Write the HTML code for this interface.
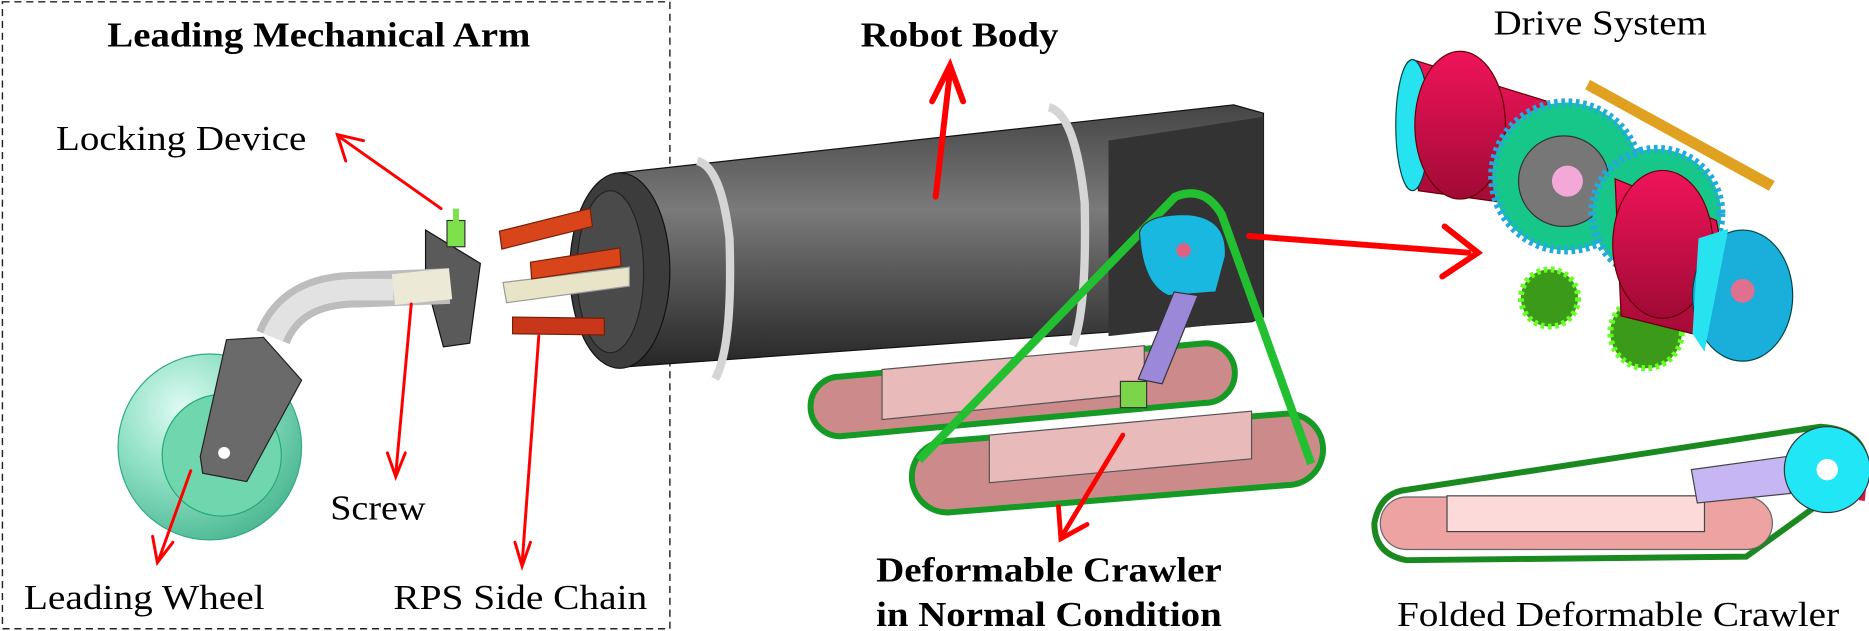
<!DOCTYPE html>
<html><head><meta charset="utf-8"><style>
html,body{margin:0;padding:0;background:#fff;overflow:hidden}
svg{display:block}
text{font-family:"Liberation Serif",serif;fill:#000}
.b{font-weight:bold}
</style></head><body>
<svg width="1869" height="631" viewBox="0 0 1568 529.4" xmlns="http://www.w3.org/2000/svg">
<defs>
<linearGradient id="body" x1="0" y1="0" x2="0" y2="1">
<stop offset="0" stop-color="#454545"/><stop offset="0.4" stop-color="#7a7a7a"/><stop offset="1" stop-color="#262626"/></linearGradient>
<linearGradient id="red" x1="0" y1="0" x2="0" y2="1">
<stop offset="0" stop-color="#f0145a"/><stop offset="1" stop-color="#a00a35"/></linearGradient>
<radialGradient id="wh" cx="0.35" cy="0.3" r="0.75"><stop offset="0" stop-color="#e0fbf4"/><stop offset="0.5" stop-color="#8ee0c4"/><stop offset="1" stop-color="#4cb892"/></radialGradient>
</defs>

<rect x="2" y="1.5" width="560" height="526" fill="none" stroke="#222" stroke-width="1.2" stroke-dasharray="6,4"/>

<!-- main body -->
<path d="M520,145 L1035,88 L1060,95 L1060,266 L1050,270 L522,308 Z" fill="url(#body)" stroke="#111"/>
<path d="M930,118 L1060,98 L1060,268 L930,282 Z" fill="#333"/>
<ellipse cx="520" cy="227" rx="42" ry="82" fill="#3c3c3c" stroke="#111"/>
<ellipse cx="512" cy="228" rx="28" ry="68" fill="#4a4a4a" stroke="#222"/>
<path d="M585,135 Q605,140 612,200 Q615,290 600,318" fill="none" stroke="#d5d5d5" stroke-width="7"/>
<path d="M880,90 Q902,95 910,170 Q912,260 900,290" fill="none" stroke="#d5d5d5" stroke-width="7"/>

<!-- arm -->
<path d="M422,237 L528,224 L528,240 L425,254 Z" fill="#e8e4c8" stroke="#999"/>
<path d="M419,194 L495,175 L497,190 L421,209 Z" fill="#d9451a" stroke="#7a1d05"/>
<path d="M445,220 L520,208 L521,223 L446,234 Z" fill="#d9451a" stroke="#7a1d05"/>
<path d="M430,266 L507,267 L507,281 L430,280 Z" fill="#c8371a" stroke="#7a1d05"/>
<path d="M357,193 L403,221 L394,288 L372,291 L357,235 Z" fill="#5a5a5a" stroke="#111"/>
<rect x="375" y="185" width="15" height="22" fill="#7ee04a" stroke="#333"/>
<rect x="380" y="175" width="5" height="12" fill="#7ee04a"/>
<path d="M229,283 Q245,243 300,243 L377,240" fill="none" stroke="#bdbdbd" stroke-width="30"/>
<path d="M229,283 Q245,243 300,243 L330,243" fill="none" stroke="#e2e2e2" stroke-width="18"/>
<path d="M330,243 L378,238" stroke="#ecead6" stroke-width="26"/>
<ellipse cx="176" cy="375" rx="77" ry="78" fill="url(#wh)" stroke="#3a8"/>
<ellipse cx="186" cy="382" rx="50" ry="51" fill="#6fd6ad" stroke="#2a7"/>
<path d="M190,285 L221,283 L253,319 L207,404 L170,397 L168,383 Z" fill="#6a6a6a" stroke="#222"/>
<circle cx="188" cy="380" r="5" fill="#fff"/>

<!-- crawler normal -->
<path d="M705,316 L1011,288 A25,25 0 0 1 1011,338 L705,366 A25,25 0 0 1 705,316 Z" fill="#cd8a8a" stroke="#159a25" stroke-width="5"/>
<path d="M740,310 L960,290 L960,330 L740,352 Z" fill="#e8baba" stroke="#555"/>
<path d="M795,370 L1080,347 A30,30 0 0 1 1080,407 L795,430 A30,30 0 0 1 795,370 Z" fill="#cd8a8a" stroke="#159a25" stroke-width="5"/>
<path d="M830,365 L1050,345 L1050,385 L830,405 Z" fill="#e8baba" stroke="#555"/>
<path d="M771,386 L986,165 Q1010,155 1025,180 L1100,389" fill="none" stroke="#22c030" stroke-width="7"/>
<path d="M956,195 Q960,180 995,180 Q1030,182 1028,215 L1020,245 L980,248 Q958,238 956,195 Z" fill="#18b8e0" stroke="#333"/>
<circle cx="993" cy="210" r="6" fill="#e06080"/>
<path d="M985,245 L1005,248 L975,322 L955,318 Z" fill="#9b88d8" stroke="#333"/>
<rect x="940" y="320" width="22" height="22" fill="#7bd44a" stroke="#333"/>

<!-- drive system -->
<path d="M1185,50 L1298,85 L1298,175 L1190,160 Z" fill="url(#red)" stroke="#600"/>
<ellipse cx="1185" cy="105" rx="14" ry="55" fill="#27e3f0" stroke="#044"/>
<ellipse cx="1225" cy="105" rx="38" ry="62" fill="url(#red)" stroke="#600"/>
<circle cx="1314" cy="148" r="62" fill="#17c789" stroke="#2ad" stroke-width="7" stroke-dasharray="3,3"/>
<circle cx="1312" cy="152" r="38" fill="#777" stroke="#333"/>
<circle cx="1315" cy="152" r="13" fill="#f4a8d8"/>
<path d="M1334,67 L1489,152 L1484,160 L1330,75 Z" fill="#e0a020"/>
<circle cx="1390" cy="179" r="54" fill="#17c789" stroke="#2ad" stroke-width="7" stroke-dasharray="3,3"/>
<circle cx="1300" cy="250" r="24" fill="#3c9a1a" stroke="#6f2" stroke-width="5" stroke-dasharray="3,3"/>
<circle cx="1381" cy="279" r="30" fill="#3c9a1a" stroke="#6f2" stroke-width="5" stroke-dasharray="3,3"/>
<path d="M1355,150 L1440,185 L1460,290 L1360,265 Z" fill="url(#red)" stroke="#600"/>
<ellipse cx="1395" cy="205" rx="42" ry="62" fill="url(#red)" stroke="#600"/>
<ellipse cx="1462" cy="248" rx="42" ry="55" fill="#1aaedb" stroke="#044"/>
<path d="M1425,200 L1450,192 L1430,295 L1420,280 Z" fill="#27e3f0"/>
<circle cx="1462" cy="244" r="10" fill="#e07090"/>

<!-- folded crawler -->
<path d="M1153,439 Q1158,413 1180,411 L1527,358 Q1566,360 1566,394 L1465,467 L1180,470 Q1153,465 1153,439 Z" fill="#fff" stroke="#1a8a20" stroke-width="5"/>
<path d="M1180,417 L1465,417 A22,22 0 0 1 1465,461 L1180,461 A22,22 0 0 1 1180,417 Z" fill="#eea3a3" stroke="#666"/>
<rect x="1214" y="416" width="216" height="30" fill="#fcdada" stroke="#444"/>
<path d="M1540,360 Q1568,375 1562,420" fill="none" stroke="#e01040" stroke-width="5"/>
<path d="M1419,394 L1499,383 L1502,414 L1424,422 Z" fill="#c6b6f4" stroke="#444"/>
<circle cx="1533" cy="394" r="36" fill="#20e6f6" stroke="#333"/>
<circle cx="1533" cy="394" r="9" fill="#fff"/>

<!-- arrows -->
<g stroke="#f00" fill="none" stroke-linecap="round">
<line x1="785" y1="165" x2="797" y2="60" stroke-width="5"/>
<path d="M782,85 L797,55 L808,85" stroke-width="5"/>
<line x1="1048" y1="198" x2="1232" y2="212" stroke-width="5"/>
<path d="M1212,190 L1240,212 L1210,232" stroke-width="5"/>
<line x1="942" y1="365" x2="892" y2="448" stroke-width="4"/>
<path d="M888,425 L890,452 L912,440" stroke-width="4"/>
<line x1="370" y1="175" x2="285" y2="115" stroke-width="2.5"/>
<path d="M290,135 L283,113 L305,118" stroke-width="2.5"/>
<line x1="345" y1="255" x2="332" y2="398" stroke-width="2.5"/>
<path d="M325,380 L332,400 L340,380" stroke-width="2.5"/>
<line x1="452" y1="282" x2="438" y2="473" stroke-width="2.5"/>
<path d="M432,455 L438,475 L445,455" stroke-width="2.5"/>
<line x1="160" y1="395" x2="133" y2="470" stroke-width="2.5"/>
<path d="M128,450 L132,472 L145,455" stroke-width="2.5"/>
</g>

<!-- labels -->
<g font-size="29">
<text class="b" x="90" y="39" textLength="355" lengthAdjust="spacingAndGlyphs">Leading Mechanical Arm</text>
<text class="b" x="722" y="39" textLength="166" lengthAdjust="spacingAndGlyphs">Robot Body</text>
<text x="1253" y="29" textLength="179" lengthAdjust="spacingAndGlyphs">Drive System</text>
<text x="47" y="126" textLength="210" lengthAdjust="spacingAndGlyphs">Locking Device</text>
<text x="277" y="436" textLength="80" lengthAdjust="spacingAndGlyphs">Screw</text>
<text x="20" y="511" textLength="202" lengthAdjust="spacingAndGlyphs">Leading Wheel</text>
<text x="330" y="511" textLength="213" lengthAdjust="spacingAndGlyphs">RPS Side Chain</text>
<text class="b" x="735" y="488" textLength="290" lengthAdjust="spacingAndGlyphs">Deformable Crawler</text>
<text class="b" x="735" y="525" textLength="290" lengthAdjust="spacingAndGlyphs">in Normal Condition</text>
<text x="1172" y="525" textLength="371" lengthAdjust="spacingAndGlyphs">Folded Deformable Crawler</text>
</g>
</svg>
</body></html>
